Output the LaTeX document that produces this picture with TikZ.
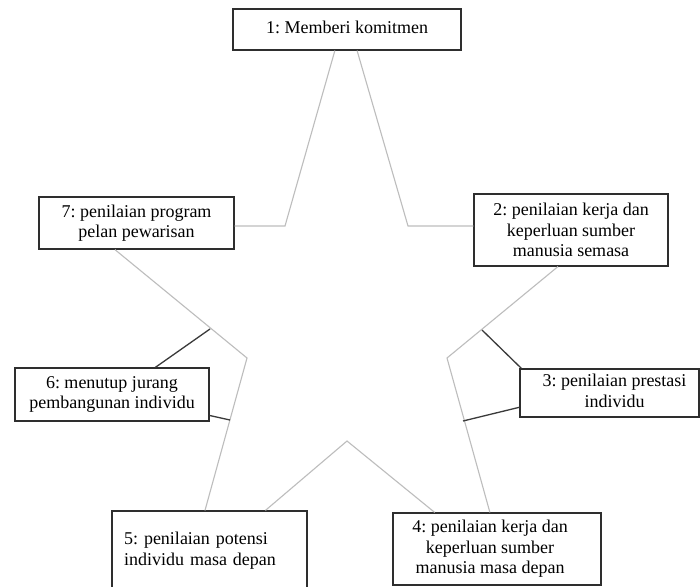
\documentclass[tikz,border=0pt]{standalone}
\usepackage{fontspec}
\setmainfont{Liberation Serif}
\usetikzlibrary{calc}
\definecolor{boxc}{HTML}{2E2E2E}
\definecolor{starc}{HTML}{BDBDBD}
\definecolor{linkc}{HTML}{3A3A3A}
\begin{document}
\frenchspacing
\begin{tikzpicture}[x=1pt,y=-1pt,
  box/.style={draw=boxc, line width=1.2pt, fill=white, inner sep=0pt, align=center,
    font=\fontsize{18}{20.5}\selectfont\frenchspacing, text=black},
  star/.style={draw=starc, line width=1.1pt},
  link/.style={draw=linkc, line width=1.3pt}]
\useasboundingbox (0,0) rectangle (700,586);
\clip (0,0) rectangle (700,586);
\fill[white] (0,0) rectangle (700,586);

% boxes
\node[box, minimum width=228pt, minimum height=41pt] (n1) at (347,29.5) {\raisebox{4pt}{1: Memberi komitmen}};
\node[box, minimum width=194pt, minimum height=72pt] (n2) at (571,230) {2: penilaian kerja dan\\keperluan sumber\\manusia semasa};
\node[box, minimum width=179pt, minimum height=48pt] (n3) at (609.5,393) {\hspace*{10pt}\begin{tabular}{@{}c@{}}3: penilaian prestasi\\individu\end{tabular}};
\node[box, minimum width=208pt, minimum height=72pt] (n4) at (497,549) {\begin{tabular}{@{}c@{}}4: penilaian kerja dan\\keperluan sumber\\manusia masa depan\end{tabular}\hspace*{14pt}};
\node[box, minimum height=79pt, text width=171pt, inner xsep=12pt, align=left] (n5) at (209.5,550.5) {\raisebox{2pt}{5: penilaian potensi}\\\raisebox{2pt}{individu masa depan}};
\node[box, minimum width=194pt, minimum height=53pt] (n6) at (112,394.5) {6: menutup jurang\\pembangunan individu};
\node[box, minimum width=195pt, minimum height=52pt] (n7) at (136.5,223) {7: penilaian program\\pelan pewarisan};

% star vertices and link points
\coordinate (t7) at (285,226);
\coordinate (t2) at (408,226);
\coordinate (v2) at (447,358);
\coordinate (v4) at (347,441);
\coordinate (v6) at (247,358);
\coordinate (p3a) at (482,330);
\coordinate (p3b) at (463,421);
\coordinate (p6a) at (210,329);
\coordinate (p6b) at (230,420);

% star outline
\draw[star] (n7.east |- t7) -- (t7) -- ($(n1.south west)!0.447!(n1.south east)$);
\draw[star] ($(n1.south west)!0.544!(n1.south east)$) -- (t2) -- (n2.west |- t2);
\draw[star] ($(n2.south west)!0.433!(n2.south east)$) -- (v2) -- ($(n4.north west)!0.466!(n4.north east)$);
\draw[star] ($(n4.north west)!0.202!(n4.north east)$) -- (v4) -- ($(n5.north west)!0.785!(n5.north east)$);
\draw[star] ($(n5.north west)!0.477!(n5.north east)$) -- (v6) -- ($(n7.south west)!0.39!(n7.south east)$);

% links to boxes 3 and 6
\draw[link] (p3a) -- ($(n3.north west)!0.011!(n3.north east)$);
\draw[link] (p3b) -- ($(n3.north west)!0.79!(n3.south west)$);
\draw[link] (p6a) -- ($(n6.north west)!0.722!(n6.north east)$);
\draw[link] (p6b) -- ($(n6.north east)!0.887!(n6.south east)$);
\end{tikzpicture}
\end{document}
